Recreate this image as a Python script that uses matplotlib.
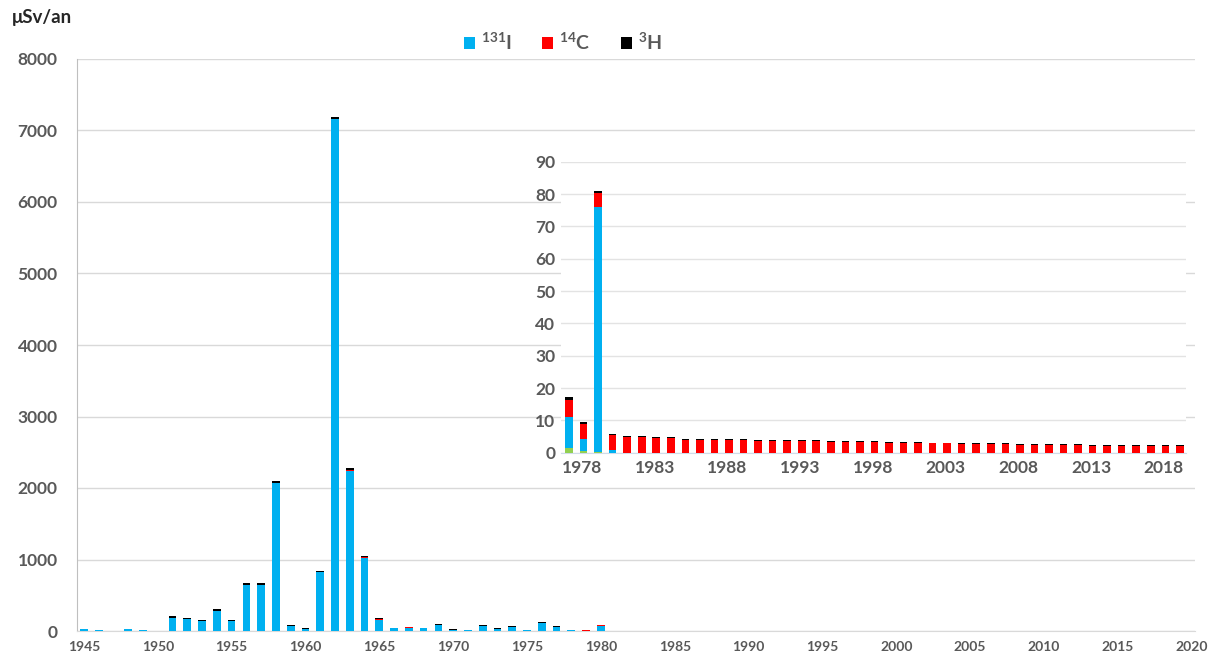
import matplotlib
matplotlib.use("Agg")
import matplotlib.pyplot as plt
import matplotlib.transforms as mtransforms
import numpy as np

plt.rcParams['font.family'] = ['Lato', 'DejaVu Sans']
plt.rcParams['mathtext.fontset'] = 'custom'
plt.rcParams['mathtext.rm'] = 'Lato:bold'
plt.rcParams['mathtext.bf'] = 'Lato:bold'
plt.rcParams['mathtext.it'] = 'Lato:bold'
plt.rcParams['mathtext.default'] = 'rm'

# ---------------- data ----------------
years = list(range(1945, 2021))

# 131I (blue), uSv/an
i131 = [28, 18, 0, 28, 9, 0, 185, 168, 140, 280, 138, 640, 650, 2075, 72, 25,
        820, 7160, 2240, 1020, 155, 38, 48, 38, 85, 18, 10, 68, 30, 60, 8, 112, 55,
        9.7, 3.8, 75.7,
        0.8] + [0] * 39
# 14C (red)
c14 = [0, 0, 0, 0, 0, 0, 0, 0, 0, 0, 0, 0, 0, 0, 0, 0,
       0, 5, 10, 12, 8, 2, 2, 2, 2, 2, 2, 2, 2, 2, 2, 2, 2,
       5.2, 4.7, 4.4,
       4.65, 4.8, 4.75, 4.5, 4.45, 3.9, 3.9, 3.85, 3.8, 3.8, 3.6, 3.55, 3.5, 3.5, 3.5,
       3.45, 3.4, 3.3, 3.25, 3.05, 3.0, 2.9, 2.85, 2.85, 2.8, 2.7, 2.7, 2.55, 2.5, 2.45,
       2.45, 2.35, 2.35, 2.2, 2.2, 2.1, 2.1, 1.95, 1.95, 1.95]
# 3H (black)
h3 = [2, 2, 0, 2, 1, 0, 20, 18, 18, 25, 16, 25, 26, 25, 12, 10,
      25, 30, 30, 18, 14, 7, 9, 7, 10, 7, 5, 9, 7, 7, 4, 11, 7,
      0.9, 0.4, 0.5] + [0.3] * 40
# other contributions (green)
other = [0] * 33 + [1.4, 0.5, 0.3] + [0] * 40

inset_years = list(range(1978, 2021))
main_xticks = list(range(1945, 2021, 5))
main_yticks = list(range(0, 8001, 1000))
inset_xticks = list(range(1978, 2019, 5))
inset_yticks = list(range(0, 91, 10))

series = [
    ("other", other, "#92D050"),
    (r"$^{131}$I", i131, "#00B0F0"),
    (r"$^{14}$C", c14, "#FF0000"),
    (r"$^{3}$H", h3, "#000000"),
]

GRID = "#D9D9D9"
TXT = "#595959"

W, H = 1215, 664
fig = plt.figure(figsize=(W / 100, H / 100), dpi=100)


def fx(px):
    return px / W


def fy(py):
    return 1 - py / H


# ---------------- main axes ----------------
ax = fig.add_axes([fx(77), fy(631), fx(1195) - fx(77), fy(59) - fy(631)])
bottom = np.zeros(len(years))
handles = []
for name, vals, col in series:
    v = np.array(vals, dtype=float)
    b = ax.bar(years, v, width=0.52, bottom=bottom, color=col, linewidth=0, zorder=3)
    bottom += v
    if name != "other":
        handles.append((b, name))

ax.set_xlim(1944.53, 2020.23)
ax.set_ylim(0, 8000)
ax.set_xticks(main_xticks)
ax.set_xticklabels([str(t) for t in main_xticks])
ax.set_yticks(main_yticks)
ax.set_yticklabels([str(t) for t in main_yticks])
ax.tick_params(axis='y', length=0, pad=14, labelsize=12.5, labelcolor=TXT)
ax.tick_params(axis='x', length=0, pad=7, labelsize=10, labelcolor=TXT)
for lab in ax.get_xticklabels() + ax.get_yticklabels():
    lab.set_fontweight('bold')
ax.grid(axis='y', color=GRID, linewidth=1.0, zorder=0)
ax.set_axisbelow(True)
for s in ['top', 'right']:
    ax.spines[s].set_visible(False)
ax.spines['left'].set_color("#BFBFBF")
ax.spines['bottom'].set_color(GRID)

fig.text(fx(12), fy(18), "μSv/an", fontsize=13.5, fontweight='bold', color="#262626",
         ha='left', va='center')

leg = fig.legend([h for h, _ in handles], [n for _, n in handles], loc='center',
                 bbox_to_anchor=(fx(563), fy(42)), ncol=3, frameon=False,
                 fontsize=14, handlelength=0.55, handleheight=0.55, handletextpad=0.3,
                 columnspacing=1.6)
for t in leg.get_texts():
    t.set_color(TXT)
    t.set_fontweight('bold')

# ---------------- white box behind inset ----------------
box = fig.add_axes([fx(497), fy(495), fx(1200) - fx(497), fy(145) - fy(495)])
box.set_facecolor('white')
box.axis('off')
box.patch.set_visible(True)

# ---------------- inset axes ----------------
iax = fig.add_axes([fx(561), fy(452.7), fx(1186) - fx(561), fy(161.7) - fy(452.7)])
iax.set_facecolor('white')
idx0 = years.index(1978)
ibottom = np.zeros(len(inset_years))
for name, vals, col in series:
    v = np.array(vals[idx0:], dtype=float)
    iax.bar(inset_years, v, width=0.52, bottom=ibottom, color=col, linewidth=0, zorder=3)
    ibottom += v
iax.set_xlim(1977.45, 2020.42)
iax.set_ylim(0, 90)
iax.set_xticks(inset_xticks)
iax.set_xticklabels([str(t) for t in inset_xticks])
iax.set_yticks(inset_yticks)
iax.set_yticklabels([str(t) for t in inset_yticks])
iax.tick_params(axis='y', length=0, pad=4, labelsize=12.5, labelcolor=TXT)
iax.tick_params(axis='x', length=0, pad=5, labelsize=12.5, labelcolor=TXT)
shift = mtransforms.ScaledTranslation(13 / 100, 0, fig.dpi_scale_trans)
for lab in iax.get_xticklabels():
    lab.set_transform(lab.get_transform() + shift)
for lab in iax.get_xticklabels() + iax.get_yticklabels():
    lab.set_fontweight('bold')
iax.grid(axis='y', color="#E3E3E3", linewidth=1.0, zorder=0)
iax.set_axisbelow(True)
for s in ['top', 'right', 'left']:
    iax.spines[s].set_visible(False)
iax.spines['bottom'].set_color("#D0DCEA")

fig.savefig("out.png", dpi=100)
